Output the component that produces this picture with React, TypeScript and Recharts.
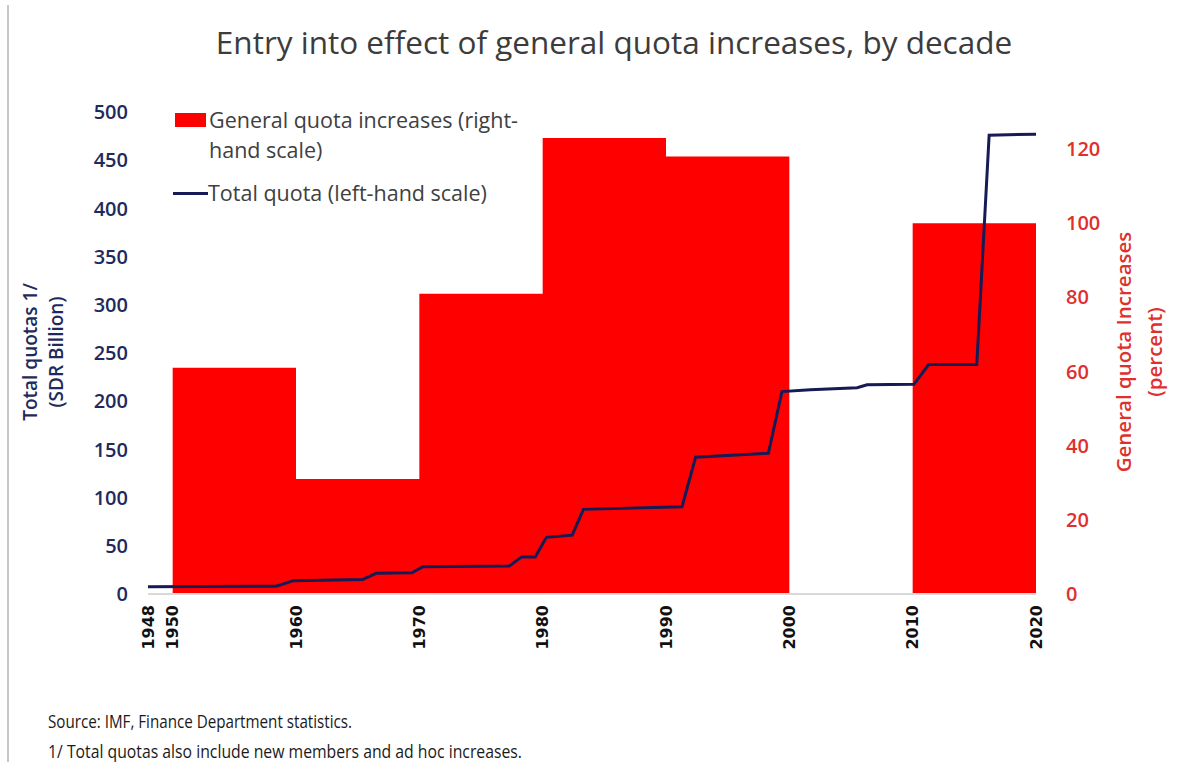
import React from "react";
import { ComposedChart, Area, Line, XAxis, YAxis, Legend } from "recharts";

// General quota increases by decade (percent, right-hand scale); value holds until next year
const decadeYears = [1950, 1960, 1970, 1980, 1990, 2000, 2010, 2020];
const generalIncreases = [61, 31, 81, 123, 118, 0, 100, 100];

// Total quota (SDR billion, left-hand scale)
const quotaYears = [1948, 1958.4, 1959.8, 1965.4, 1966.5, 1969.4, 1970.3, 1977.3, 1978.3, 1979.4, 1980.3, 1982.4, 1983.3, 1991.3, 1992.4, 1998.3, 1999.4, 2001.7, 2005.5, 2006.3, 2010.1, 2011.3, 2015.2, 2016.2, 2020];
const totalQuota = [7.6, 8, 13.8, 15, 21.5, 22, 28.3, 29, 38.5, 38.5, 58.8, 61, 87.8, 90.6, 141.8, 146, 210, 212, 214, 217, 217.5, 238, 238, 476, 477];

const xTicks = [1948, 1950, 1960, 1970, 1980, 1990, 2000, 2010, 2020];
const leftTicks = [0, 50, 100, 150, 200, 250, 300, 350, 400, 450, 500];
const rightTicks = [0, 20, 40, 60, 80, 100, 120];

const title = "Entry into effect of general quota increases, by decade";
const leftTitle = ["Total quotas 1/", "(SDR Billion)"];
const rightTitle = ["General quota Increases", "(percent)"];
const notes = ["Source: IMF, Finance Department statistics.", "1/ Total quotas also include new members and ad hoc increases."];
const barName = "General quota increases (right-hand scale)";
const lineName = "Total quota (left-hand scale)";

const barData = decadeYears.map((year, i) => ({ year, increase: generalIncreases[i] }));
const lineData = quotaYears.map((year, i) => ({ year, quota: totalQuota[i] }));

const FONT = "'Open Sans', 'Noto Sans', sans-serif";
const RED = "#ff0000";
const NAVY = "#161a55";
const NAVY_TEXT = "#1f2a5c";
const RED_TEXT = "#e0302e";

const XTick = (props: any) => {
  const { x, y, payload } = props;
  return (
    <text
      x={x}
      y={y}
      transform={`rotate(-90, ${x}, ${y})`}
      textAnchor="end"
      dy="0.36em"
      fontFamily="'DejaVu Sans', Verdana, sans-serif"
      fontWeight={700}
      fontSize={16}
      fill="#111"
    >
      {payload.value}
    </text>
  );
};

const LegendContent = () => (
  <div style={{ position: "relative", width: 420, height: 110, fontFamily: FONT, fontSize: 21.5, color: "#404040" }}>
    <div style={{ position: "absolute", left: 5, top: 13, width: 31, height: 14, background: RED }} />
    <div style={{ position: "absolute", left: 39, top: 5, lineHeight: "30px", whiteSpace: "nowrap" }}>
      General quota increases (right-
      <br />
      hand scale)
    </div>
    <div style={{ position: "absolute", left: 3, top: 92, width: 35, height: 3, background: NAVY }} />
    <div style={{ position: "absolute", left: 38, top: 78, lineHeight: "30px", whiteSpace: "nowrap" }}>{lineName}</div>
  </div>
);

export default function App() {
  return (
    <div style={{ position: "absolute", left: 0, top: 0, width: 1203, height: 762, background: "#fff", overflow: "hidden" }}>
      <ComposedChart width={1203} height={762} margin={{ top: 112, right: 0, bottom: 0, left: 0 }}>
        <XAxis
          dataKey="year"
          type="number"
          domain={[1948, 2020]}
          ticks={xTicks}
          allowDataOverflow
          interval={0}
          height={168}
          tickLine={false}
          tickSize={6}
          tickMargin={5}
          axisLine={{ stroke: "#d9d9d9", strokeWidth: 2 }}
          tick={<XTick />}
        />
        <YAxis
          yAxisId="left"
          orientation="left"
          width={148}
          domain={[0, 500]}
          ticks={leftTicks}
          interval={0}
          axisLine={false}
          tickLine={false}
          tickSize={6}
          tickMargin={14}
          tick={{ fill: NAVY_TEXT, fontSize: 20, fontWeight: 600, fontFamily: FONT }}
        />
        <YAxis
          yAxisId="right"
          orientation="right"
          width={167}
          domain={[0, 130]}
          ticks={rightTicks}
          interval={0}
          axisLine={false}
          tickLine={false}
          tickSize={6}
          tickMargin={24}
          tick={{ fill: RED_TEXT, fontSize: 20, fontWeight: 600, fontFamily: FONT, textAnchor: "start" }}
        />
        <Area
          data={barData}
          yAxisId="right"
          dataKey="increase"
          name={barName}
          type="stepAfter"
          fill={RED}
          fillOpacity={1}
          stroke="none"
          baseValue={0}
          isAnimationActive={false}
        />
        <Line
          data={lineData}
          yAxisId="left"
          dataKey="quota"
          name={lineName}
          type="linear"
          stroke={NAVY}
          strokeWidth={3}
          dot={false}
          activeDot={false}
          isAnimationActive={false}
        />
        <Legend
          layout="vertical"
          align="center"
          verticalAlign="middle"
          content={<LegendContent />}
          wrapperStyle={{ left: 170, top: 100, width: 420, height: 110 }}
        />
      </ComposedChart>
      <svg width={1203} height={762} style={{ position: "absolute", left: 0, top: 0, pointerEvents: "none" }}>
        <line x1={8} y1={5} x2={8} y2={762} stroke="#c8c8c8" strokeWidth={2} />
        <text x={614} y={54} textAnchor="middle" fontFamily={FONT} fontSize={31.5} fill="#3c3c3c">
          {title}
        </text>
        <g transform="rotate(-90, 30, 352)">
          <text x={30} y={352} textAnchor="middle" dominantBaseline="central" fontFamily={FONT} fontSize={19} fontWeight={600} fill={NAVY_TEXT}>
            {leftTitle[0]}
          </text>
        </g>
        <g transform="rotate(-90, 56, 352)">
          <text x={56} y={352} textAnchor="middle" dominantBaseline="central" fontFamily={FONT} fontSize={19} fontWeight={600} fill={NAVY_TEXT}>
            {leftTitle[1]}
          </text>
        </g>
        <g transform="rotate(-90, 1123, 352)">
          <text x={1123} y={352} textAnchor="middle" dominantBaseline="central" fontFamily={FONT} fontSize={20.5} fontWeight={600} fill={RED_TEXT}>
            {rightTitle[0]}
          </text>
        </g>
        <g transform="rotate(-90, 1154, 352)">
          <text x={1154} y={352} textAnchor="middle" dominantBaseline="central" fontFamily={FONT} fontSize={20.5} fontWeight={600} fill={RED_TEXT}>
            {rightTitle[1]}
          </text>
        </g>
        <text x={48} y={728} fontFamily={FONT} fontSize={18.5} fill="#1a1a1a" textLength={304} lengthAdjust="spacingAndGlyphs">
          {notes[0]}
        </text>
        <text x={48} y={758} fontFamily={FONT} fontSize={18.5} fill="#1a1a1a" textLength={474} lengthAdjust="spacingAndGlyphs">
          {notes[1]}
        </text>
      </svg>
    </div>
  );
}
